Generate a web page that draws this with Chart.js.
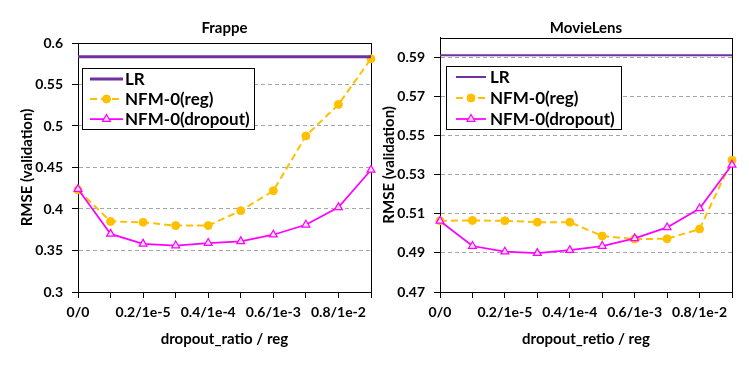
<!DOCTYPE html>
<html>
<head>
<meta charset="utf-8">
<script src="https://cdn.jsdelivr.net/npm/chart.js@4.4.1/dist/chart.umd.min.js"></script>
<style>
  body { margin: 0; background: #fff; }
  canvas { position: absolute; top: 0; }
</style>
</head>
<body>
<canvas id="frappe" width="380" height="366" style="left:0"></canvas>
<canvas id="movielens" width="369" height="366" style="left:380px"></canvas>
<script>
// categories (only every second one gets a label, like the original)
const xLabels = ["0/0", "", "0.2/1e-5", "", "0.4/1e-4", "", "0.6/1e-3", "", "0.8/1e-2", ""];

// Frappe
const frappeLR = [0.5835, 0.5835, 0.5835, 0.5835, 0.5835, 0.5835, 0.5835, 0.5835, 0.5835, 0.5835];
const frappeReg = [0.423, 0.385, 0.384, 0.380, 0.380, 0.398, 0.422, 0.488, 0.526, 0.581];
const frappeDrop = [0.424, 0.370, 0.358, 0.356, 0.359, 0.361, 0.369, 0.381, 0.402, 0.447];
const frappeTicks = [0.3, 0.35, 0.4, 0.45, 0.5, 0.55, 0.6];

// MovieLens
const movieLR = [0.591, 0.591, 0.591, 0.591, 0.591, 0.591, 0.591, 0.591, 0.591, 0.591];
const movieReg = [0.5064, 0.5066, 0.5064, 0.5057, 0.5057, 0.4986, 0.4971, 0.4972, 0.5022, 0.5374];
const movieDrop = [0.5063, 0.4935, 0.4906, 0.4899, 0.4914, 0.4935, 0.4974, 0.5030, 0.5127, 0.5350];
const movieTicks = [0.47, 0.49, 0.51, 0.53, 0.55, 0.57, 0.59];

const FONT = "Lato";

// black frame round the plot area
const frame = {
  id: "frame",
  beforeDatasetsDraw(chart) {
    const a = chart.chartArea, ctx = chart.ctx;
    ctx.save();
    ctx.strokeStyle = "#000";
    ctx.lineWidth = 1;
    ctx.setLineDash([]);
    ctx.strokeRect(Math.round(a.left) + .5, Math.round(a.top) + .5, Math.round(a.right - a.left), Math.round(a.bottom - a.top));
    ctx.restore();
  }
};

// legend box inside the plot, drawn from the datasets' own styles
const boxLegend = {
  id: "boxLegend",
  beforeDatasetsDraw(chart, args, o) {
    const ctx = chart.ctx, a = chart.chartArea;
    const x = Math.round(a.left + o.dx), y = Math.round(a.top + o.dy);
    ctx.save();
    ctx.fillStyle = "#fff";
    ctx.fillRect(x, y, o.w, o.h);
    ctx.strokeStyle = "#000";
    ctx.lineWidth = 1;
    ctx.strokeRect(x + .5, y + .5, o.w, o.h);
    [0, 1, 2].forEach((i, k) => {
      const ds = chart.data.datasets[i];
      const ly = y + o.row0 + k * o.rowGap;
      ctx.strokeStyle = ds.borderColor;
      ctx.lineWidth = ds.borderWidth;
      ctx.setLineDash(ds.borderDash || []);
      ctx.beginPath();
      ctx.moveTo(x + o.lx0, ly);
      ctx.lineTo(x + o.lx1, ly);
      ctx.stroke();
      ctx.setLineDash([]);
      if (ds.pointRadius) {
        ctx.fillStyle = ds.pointBackgroundColor;
        ctx.strokeStyle = ds.pointBorderColor;
        ctx.lineWidth = ds.pointBorderWidth;
        Chart.helpers.drawPoint(ctx, { pointStyle: ds.pointStyle, radius: ds.pointRadius, rotation: 0, borderWidth: ds.pointBorderWidth }, x + (o.lx0 + o.lx1) / 2, ly);
      }
      ctx.fillStyle = "#000";
      ctx.font = "bold 17px " + FONT;
      ctx.textBaseline = "middle";
      ctx.textAlign = "left";
      ctx.fillText(ds.label, x + o.tx, ly + 1);
    });
    ctx.restore();
  }
};

function makeChart(id, title, xTitle, lr, reg, drop, yTicks, yMax, box) {
  return new Chart(document.getElementById(id), {
    type: "line",
    data: {
      labels: xLabels,
      datasets: [
        { label: "LR", data: lr, borderColor: "#7030a0", borderWidth: box.lrWidth, pointRadius: 0, order: 0, clip: false },
        { label: "NFM-0(reg)", data: reg, borderColor: "#ffc000", borderWidth: 2, borderDash: [7, 4],
          pointStyle: "circle", pointRadius: 4, pointBackgroundColor: "#ffc000", pointBorderColor: "#ffc000", pointBorderWidth: 1, order: 2, clip: false },
        { label: "NFM-0(dropout)", data: drop, borderColor: "#ff00ff", borderWidth: 1.75,
          pointStyle: "triangle", pointRadius: 4.5, pointBackgroundColor: "#ffe6ff", pointBorderColor: "#ff00ff", pointBorderWidth: 1.25, order: 1, clip: false }
      ]
    },
    options: {
      responsive: false, animation: false,
      layout: { padding: { left: 0, right: box.padRight, top: 0, bottom: 0 } },
      plugins: {
        legend: { display: false },
        tooltip: { enabled: false },
        title: { display: true, text: title, fullSize: false, color: "#000",
          font: { family: FONT, size: 15, weight: "bold", lineHeight: 1.2 }, padding: { top: 19, bottom: box.titleBottom } },
        boxLegend: box
      },
      scales: {
        x: {
          offset: false,
          grid: { drawOnChartArea: false, tickLength: 6, tickColor: "#000", color: "#000" },
          border: { color: "#000" },
          ticks: { autoSkip: false, maxRotation: 0, padding: 6, color: "#000", font: { family: FONT, size: 14, weight: "bold" } },
          title: { display: true, text: xTitle, color: "#000", font: { family: FONT, size: 15, weight: "bold", lineHeight: 1.2 }, padding: { top: 0, bottom: 18 } },
          afterFit(s) { s.height = 74; }
        },
        y: {
          min: yTicks[0], max: yMax,
          afterBuildTicks(s) { s.ticks = yTicks.map(v => ({ value: v })); },
          grid: { color: "#a6a6a6", tickColor: "#000", tickLength: 6, tickBorderDash: [] },
          border: { color: "#000", dash: [4, 3] },
          ticks: { padding: 9, color: "#000", font: { family: FONT, size: 14, weight: "bold" }, callback: v => String(v) },
          title: { display: true, text: "RMSE (validation)", color: "#000", font: { family: FONT, size: 15, weight: "bold", lineHeight: 1.2 }, padding: { top: box.yTitlePad, bottom: 0 } },
          afterFit(s) { s.width = box.yWidth; }
        }
      }
    },
    plugins: [frame, boxLegend]
  });
}

makeChart("frappe", "Frappe", "dropout_ratio / reg", frappeLR, frappeReg, frappeDrop, frappeTicks, 0.6,
  { dx: 4, dy: 25, w: 172, h: 61, row0: 11, rowGap: 20, lx0: 8, lx1: 41, tx: 43, lrWidth: 3, padRight: 9, titleBottom: 6, yTitlePad: 18, yWidth: 78 });
makeChart("movielens", "MovieLens", "dropout_retio / reg", movieLR, movieReg, movieDrop, movieTicks, 0.6,
  { dx: 6, dy: 28, w: 175, h: 63, row0: 11, rowGap: 21, lx0: 10, lx1: 40, tx: 44, lrWidth: 2, padRight: 17, titleBottom: 0.7, yTitlePad: 0, yWidth: 60 });
</script>
</body>
</html>
